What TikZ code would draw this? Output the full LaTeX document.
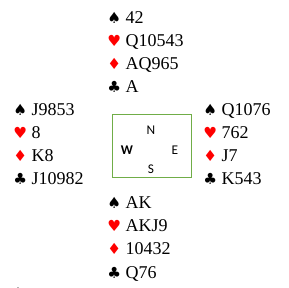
\documentclass[tikz,border=0pt]{standalone}
\usepackage{fontspec}
\setmainfont{Liberation Serif}
\newfontfamily\suitfont{DejaVu Sans}
\newfontfamily\compassfont{Carlito}
\definecolor{boxgreen}{HTML}{70AD47}
\definecolor{suitred}{HTML}{FF0000}
\newcommand{\Sp}{{\suitfont\fontsize{11.5}{12}\selectfont ♠}}
\newcommand{\Ht}{{\color{suitred}\suitfont\fontsize{11.5}{12}\selectfont ♥}}
\newcommand{\Di}{{\color{suitred}\suitfont\fontsize{11.5}{12}\selectfont ♦}}
\newcommand{\Cl}{{\suitfont\fontsize{11.5}{12}\selectfont ♣}}
\begin{document}
\begin{tikzpicture}[x=0.75pt,y=-0.75pt,
  handline/.style={anchor=base west,inner sep=0pt,font=\fontsize{13.5}{15}\selectfont},
  compass/.style={inner sep=0pt,font=\compassfont\fontsize{10}{11}\selectfont},
  table/.style={draw=boxgreen,line width=0.75pt,minimum width=59.25pt,minimum height=47.25pt,inner sep=0pt}]
\useasboundingbox (0,0) rectangle (289,288);
% North
\node[handline] (n1) at (107,24) {\Sp\ 42};
\node[handline] (n2) at (107,47) {\Ht\ Q10543};
\node[handline] (n3) at (107,70) {\Di\ AQ965};
\node[handline] (n4) at (107,93) {\Cl\ A};
% West
\node[handline] (w1) at (13,116) {\Sp\ J9853};
\node[handline] (w2) at (13,139) {\Ht\ 8};
\node[handline] (w3) at (13,162) {\Di\ K8};
\node[handline] (w4) at (13,185) {\Cl\ J10982};
% East
\node[handline] (e1) at (203,116) {\Sp\ Q1076};
\node[handline] (e2) at (203,139) {\Ht\ 762};
\node[handline] (e3) at (203,162) {\Di\ J7};
\node[handline] (e4) at (203,185) {\Cl\ K543};
% South
\node[handline] (s1) at (107,209) {\Sp\ AK};
\node[handline] (s2) at (107,232) {\Ht\ AKJ9};
\node[handline] (s3) at (107,255) {\Di\ 10432};
\node[handline] (s4) at (107,278) {\Cl\ Q76};
% Table
\node[table] (box) at (151.5,146.5) {};
\node[compass] (cn) at (151,130) {N};
\node[compass] (cs) at (151,169) {S};
\node[compass] (cw) at (127,150) {\bfseries W};
\node[compass] (ce) at (175,150) {E};
% stray dot
\node[anchor=base,inner sep=0pt,font=\fontsize{6}{7}\selectfont] (dot) at (18,288) {.};
\end{tikzpicture}
\end{document}
